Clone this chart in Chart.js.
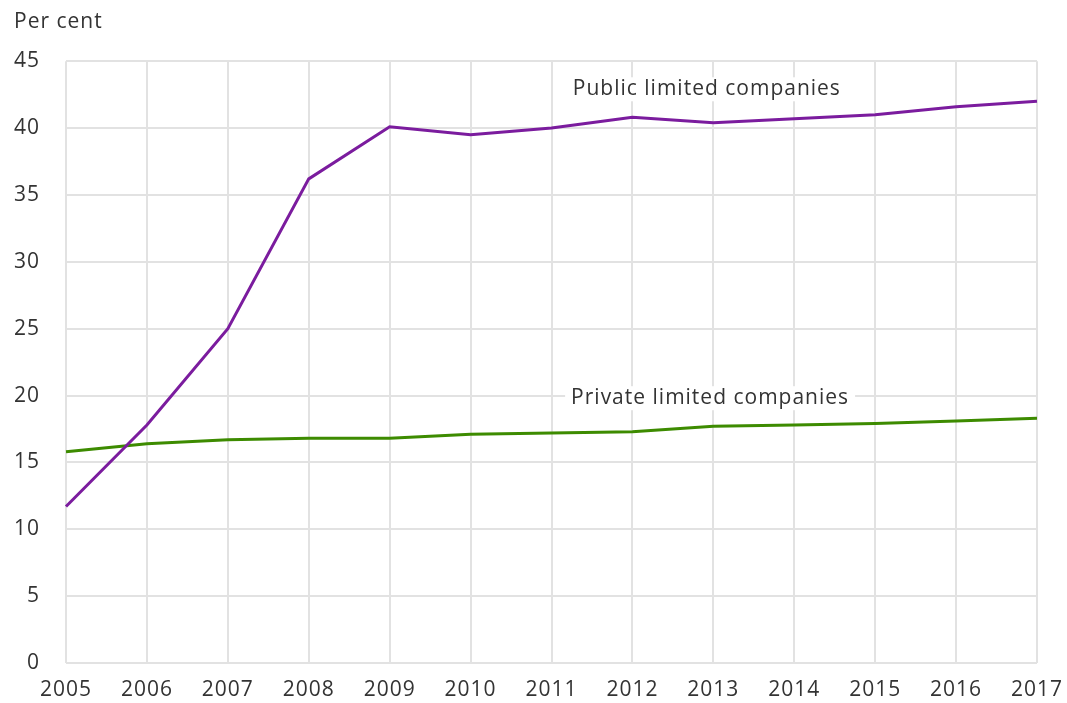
<!DOCTYPE html>
<html>
<head>
<meta charset="utf-8">
<script src="https://cdn.jsdelivr.net/npm/chart.js@4.4.1/dist/chart.umd.min.js"></script>
<style>
  html, body { margin: 0; padding: 0; background: #ffffff; }
  #wrap { width: 1067px; height: 703px; }
</style>
</head>
<body>
<div id="wrap"><canvas id="c" width="1067" height="703"></canvas></div>
<script>
const years = ['2005','2006','2007','2008','2009','2010','2011','2012','2013','2014','2015','2016','2017'];
const publicLimited = [11.7, 17.8, 25.0, 36.2, 40.1, 39.5, 40.0, 40.8, 40.4, 40.7, 41.0, 41.6, 42.0];
const privateLimited = [15.8, 16.4, 16.7, 16.8, 16.8, 17.1, 17.2, 17.3, 17.7, 17.8, 17.9, 18.1, 18.3];
const seriesNames = ['Public limited companies', 'Private limited companies'];
const yTicks = [0, 5, 10, 15, 20, 25, 30, 35, 40, 45];
const unitLabel = 'Per cent';

const FONT = '"Open Sans", "DejaVu Sans", sans-serif';
const TEXT = '#333333';
const GRID = '#e2e2e2';

const spacing = {
  id: 'spacing',
  beforeDraw(chart) { chart.ctx.letterSpacing = '1px'; }
};

const lineLabels = {
  id: 'lineLabels',
  afterDatasetsDraw(chart, args, opts) {
    const ctx = chart.ctx;
    const xs = chart.scales.x, ys = chart.scales.y;
    ctx.save();
    ctx.letterSpacing = '1px';
    ctx.font = '21px ' + FONT;
    ctx.textAlign = 'center';
    ctx.textBaseline = 'middle';
    opts.items.forEach(it => {
      const px = xs.getPixelForValue(it.x);
      const py = ys.getPixelForValue(it.y);
      const w = ctx.measureText(it.text).width;
      ctx.fillStyle = '#ffffff';
      ctx.fillRect(px - w / 2 - 6, py - 12, w + 12, 24);
      ctx.fillStyle = TEXT;
      ctx.fillText(it.text, px, py);
    });
    ctx.restore();
  }
};

new Chart(document.getElementById('c'), {
  type: 'line',
  data: {
    labels: years,
    datasets: [
      { label: seriesNames[0], data: publicLimited, borderColor: '#7b1c9e', backgroundColor: '#7b1c9e',
        borderWidth: 3, pointRadius: 0, tension: 0 },
      { label: seriesNames[1], data: privateLimited, borderColor: '#3d8b00', backgroundColor: '#3d8b00',
        borderWidth: 3, pointRadius: 0, tension: 0 }
    ]
  },
  options: {
    responsive: false,
    animation: false,
    layout: { padding: { left: 14, right: 30, top: 0, bottom: 0 } },
    plugins: {
      legend: { display: false },
      tooltip: { enabled: false },
      title: {
        display: true, text: unitLabel, align: 'start', color: TEXT,
        font: { family: FONT, size: 21, weight: 'normal' },
        padding: { top: 9, bottom: 27 }
      },
      lineLabels: {
        items: [
          { text: seriesNames[0], x: 7.92, y: 42.9 },
          { text: seriesNames[1], x: 7.96, y: 19.8 }
        ]
      }
    },
    scales: {
      x: {
        type: 'category',
        offset: false,
        grid: { color: GRID, lineWidth: 2, drawTicks: false },
        border: { display: false },
        ticks: { color: TEXT, font: { family: FONT, size: 21 }, padding: 14, maxRotation: 0, autoSkip: false },
        afterFit(scale) { scale.height = 40; scale.paddingRight = 0; scale.paddingLeft = 0; }
      },
      y: {
        min: 0, max: 45,
        afterBuildTicks(scale) { scale.ticks = yTicks.map(v => ({ value: v })); },
        grid: { color: GRID, lineWidth: 2, drawTicks: false },
        border: { display: false },
        ticks: { color: TEXT, font: { family: FONT, size: 21 }, padding: 26 },
        afterFit(scale) { scale.width = 52; }
      }
    }
  },
  plugins: [spacing, lineLabels]
});
</script>
</body>
</html>
